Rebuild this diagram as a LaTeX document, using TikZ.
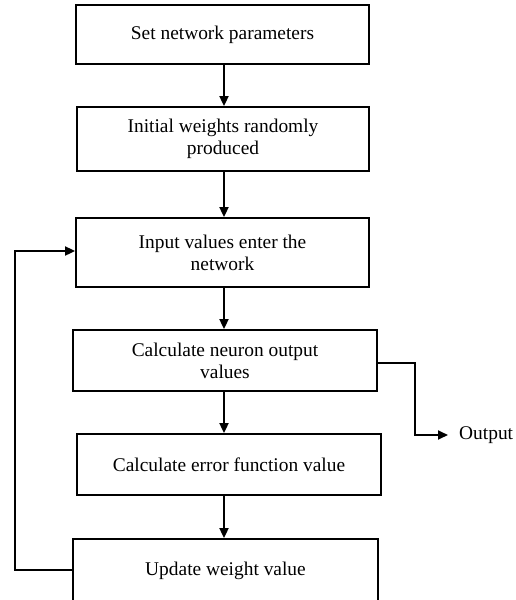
\documentclass[tikz,border=0pt]{standalone}
\usepackage{fontspec}
\setmainfont{Liberation Serif}
\usetikzlibrary{arrows.meta}
\begin{document}
\begin{tikzpicture}[x=1pt,y=-1pt,
  box/.style={draw, line width=1.8pt, rectangle, inner sep=0pt, align=center,
    font=\fontsize{19.4}{22}\selectfont},
  conn/.style={line width=1.8pt},
  arr/.style={conn, -{Triangle[width=9pt,length=10pt]}}]
\useasboundingbox (0,0) rectangle (516,600);
\node[box, minimum width=293pt, minimum height=59pt] (b1) at (222.5,34.5) {Set network parameters};
\node[box, minimum width=292pt, minimum height=64pt] (b2) at (223,139) {Initial weights randomly\\produced};
\node[box, minimum width=293pt, minimum height=69pt] (b3) at (222.5,252.5) {Input values enter the\\network};
\node[box, minimum width=304pt, minimum height=61pt] (b4) at (225,360.5) {Calculate neuron output\\values};
\node[box, minimum width=304pt, minimum height=61pt] (b5) at (229,464.5) {Calculate error function value};
\node[box, minimum width=305pt, minimum height=64pt] (b6) at (225.5,571) {Update weight value};
\node[font=\fontsize{19.4}{22}\selectfont, anchor=west, inner sep=0pt] (out) at (459,435) {Output};
\draw[arr] (224,64) coordinate (a1) -- (a1 |- b2.north);
\draw[arr] (224,171) coordinate (a2) -- (a2 |- b3.north);
\draw[arr] (224,287) coordinate (a3) -- (a3 |- b4.north);
\draw[arr] (224,391) coordinate (a4) -- (a4 |- b5.north);
\draw[arr] (224,495) coordinate (a5) -- (a5 |- b6.north);
\coordinate (fb1) at (15,570);
\coordinate (fb2) at (15,251);
\draw[arr] (b6.west |- fb1) -- (fb1) -- (fb2) -- (b3.west |- fb2);
\coordinate (o1) at (415,363);
\coordinate (o2) at (415,435);
\draw[arr] (b4.east |- o1) -- (o1) -- (o2) -- ([xshift=-11pt]out.west);
\end{tikzpicture}
\end{document}
